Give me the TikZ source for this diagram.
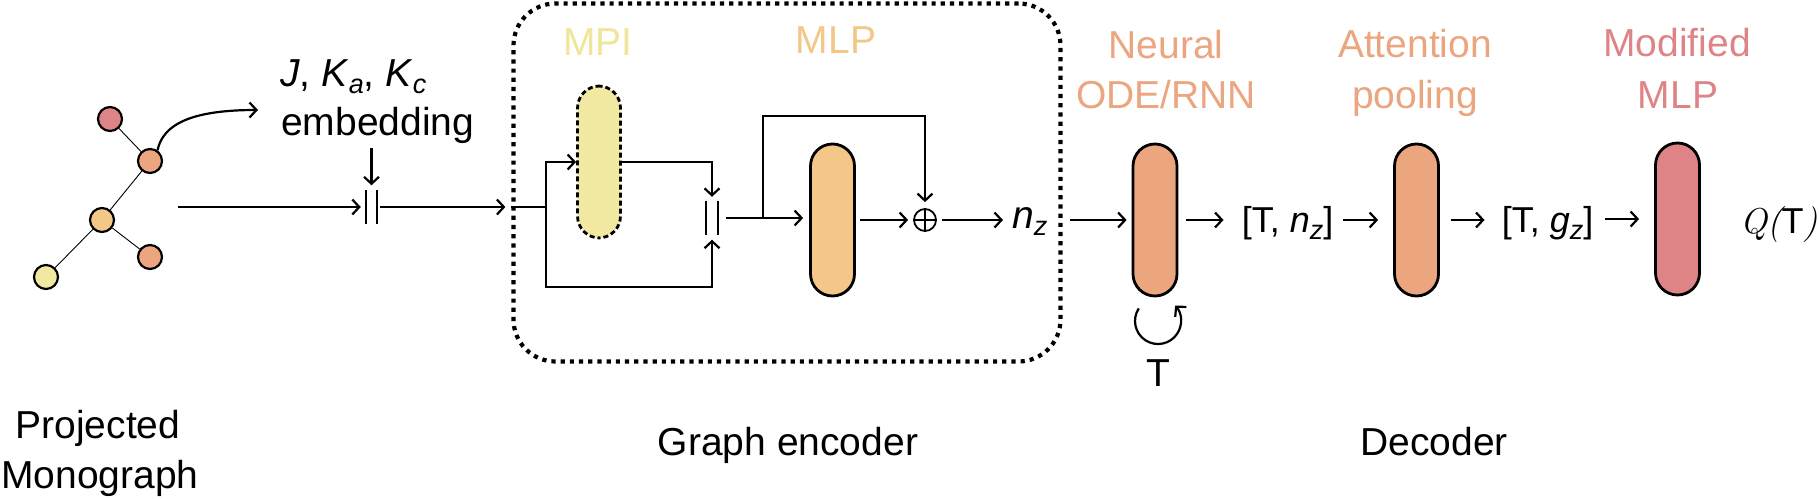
\documentclass[tikz,border=0pt]{standalone}
\usepackage{fontspec}
\setmainfont{Liberation Sans}
\newfontfamily\lmrfont{Latin Modern Roman}
\usetikzlibrary{arrows.meta,calc}
\definecolor{cyel}{HTML}{F1E9A1}
\definecolor{cyeltxt}{HTML}{EFE69A}
\definecolor{cmlp}{HTML}{F2C788}
\definecolor{csal}{HTML}{EBA680}
\definecolor{cpink}{HTML}{DE8487}
\newcommand\subit[1]{\raisebox{-7pt}{\fontsize{27}{27}\selectfont\textit{#1}}}
\begin{document}
\begin{tikzpicture}[x=1pt,y=-1pt,
  line/.style={line width=2.2pt},
  arr/.style={line width=2.2pt,-{Straight Barb[length=7pt,width=15pt,line width=2.2pt]}},
  capsule/.style={draw, line width=2.8pt, inner sep=0pt, minimum width=44pt, minimum height=152pt, rounded corners=22pt},
  gnode/.style={circle, draw, line width=2.2pt, minimum size=24pt, inner sep=0pt},
  gedge/.style={line width=0.9pt},
  lab/.style={font=\fontsize{39}{47}\selectfont, inner sep=0pt, anchor=base},
  brk/.style={font=\fontsize{36}{44}\selectfont, inner sep=0pt, anchor=base},
  catbox/.style={inner sep=0pt, minimum width=11pt, minimum height=33pt}
]
\fill[white] (0,0) rectangle (1819,498);
\useasboundingbox (0,0) rectangle (1819,498);

% ---------- projected monograph ----------
\node[gnode, fill=cpink] (g1) at (110,119) {};
\node[gnode, fill=csal]  (g2) at (150,161) {};
\node[gnode, fill=cmlp]  (g3) at (102,220) {};
\node[gnode, fill=csal]  (g4) at (150,257) {};
\node[gnode, fill=cyel]  (g5) at (46,277) {};
\draw[gedge] (g1) -- (g2);
\draw[gedge] (g2) -- (g3);
\draw[gedge] (g3) -- (g4);
\draw[gedge] (g3) -- (g5);

\node[lab] (proj1) at (98,438) {Projected};
\node[lab] (proj2) at (100,488) {Monograph};

% ---------- embedding ----------
\node[lab, anchor=base west] (jk) at (280,86) {\textit{J}, \textit{K}\subit{a}, \textit{K}\subit{c}};
\node[lab, anchor=base west] (emb) at (281,135) {embedding};
\coordinate (embin) at (258,110);
\draw[arr] (g2.55) .. controls (163,124) and (192,110) .. (embin);

\node[catbox] (cat1) at (371.5,207) {};
\draw[line] (cat1.north west) -- (cat1.south west) (cat1.north east) -- (cat1.south east);
\coordinate (gout) at (178,207);
\draw[arr, shorten >=5pt] (gout) -- (cat1.west);
\draw[arr, shorten <=5pt, shorten >=5pt] (emb.south -| cat1.north) -- (cat1.north);

% ---------- graph encoder ----------
\node[draw, line width=4.2pt, dash pattern=on 4.2pt off 5pt, rounded corners=42pt,
      minimum width=547pt, minimum height=358pt, inner sep=0pt] (box) at (787,182.5) {};
\draw[arr, shorten <=3pt, shorten >=6pt] (cat1.east) -- (cat1.east -| box.west);

\node[lab, text=cyeltxt] (mpil) at (598,55) {MPI};
\node[lab, text=cmlp] (mlpl) at (836,53) {MLP};

\node[capsule, fill=cyel, dash pattern=on 5pt off 3pt, line width=2.8pt, minimum width=43pt] (mpi) at (599,162) {};
\node[capsule, fill=cmlp] (mlp) at (832.5,220) {};
\node[catbox] (cat2) at (712,218) {};
\draw[line] (cat2.north west) -- (cat2.south west) (cat2.north east) -- (cat2.south east);
\node[circle, draw, line width=1.8pt, minimum size=22pt, inner sep=0pt] (add) at (925,220) {};
\draw[line width=1.6pt] (add.north) -- (add.south) (add.west) -- (add.east);

\coordinate (j1) at (546,207);
\coordinate (lowc) at (546,287);
\coordinate (j2) at (763,218);
\draw[line] (cat1.east -| box.west) -- (j1);
\draw[arr] (j1) |- (mpi.west);
\draw[arr, shorten >=5pt] (j1) -- (lowc) -| (cat2.south);
\draw[arr, shorten >=4.5pt] (mpi.east) -| (cat2.north);
\draw[arr, shorten <=8pt, shorten >=6pt] (cat2.east) -- (cat2.east -| mlp.west);
\draw[arr, shorten >=6pt] (j2) -- ++(0,-102) -| (add.north);
\draw[arr, shorten <=4pt, shorten >=5pt] (mlp.east |- add) -- (add.west);

\node[lab, anchor=base west] (nz) at (1012,228) {\textit{n}\subit{z}};
\draw[arr, shorten <=5pt, shorten >=9pt] (add.east) -- (add.east -| nz.west);

\node[lab] (genc) at (788,455) {Graph encoder};

% ---------- decoder ----------
\node[lab, text=csal] (odel1) at (1166,58) {Neural};
\node[lab, text=csal] (odel2) at (1166,108) {ODE/RNN};
\node[lab, text=csal] (attl1) at (1415,57) {Attention};
\node[lab, text=csal] (attl2) at (1415,108) {pooling};
\node[lab, text=cpink] (modl1) at (1677,56) {Modified};
\node[lab, text=cpink] (modl2) at (1678,108) {MLP};

\node[capsule, fill=csal] (ode) at (1155,220) {};
\node[capsule, fill=csal] (att) at (1416.5,220) {};
\node[capsule, fill=cpink] (mod) at (1677.5,219) {};

\draw[arr, shorten <=7pt, shorten >=5pt] (add -| box.east) -- (add -| ode.west);

\node[brk] (t1) at (1287.5,232) {[T, \textit{n}\subit{z}]};
\node[brk] (t2) at (1547.5,232) {[T, \textit{g}\subit{z}]};
\node[inner sep=0pt, anchor=base west, font=\fontsize{36}{44}\selectfont] (qt) at (1740,233) {{\lmrfont\itshape Q(}T{\lmrfont\itshape )}};

\draw[arr, shorten <=8pt, shorten >=18pt] (ode.east) -- (ode.east -| t1.west);
\draw[arr, shorten <=10pt, shorten >=15pt] (t1.east |- att.west) -- (att.west);
\draw[arr, shorten <=11pt, shorten >=17pt] (att.east) -- (att.east -| t2.west);
\draw[arr, shorten <=12pt, shorten >=15pt] (t2.east |- mod.west) -- (mod.west);

\coordinate (loopc) at (1158,321);
\draw[arr] ([shift={(213:23)}]loopc) arc[start angle=213, end angle=-42, radius=23];
\node[lab] (tlab) at (1158,386) {T};

\node[lab] (dec) at (1434,455) {Decoder};
\end{tikzpicture}
\end{document}
